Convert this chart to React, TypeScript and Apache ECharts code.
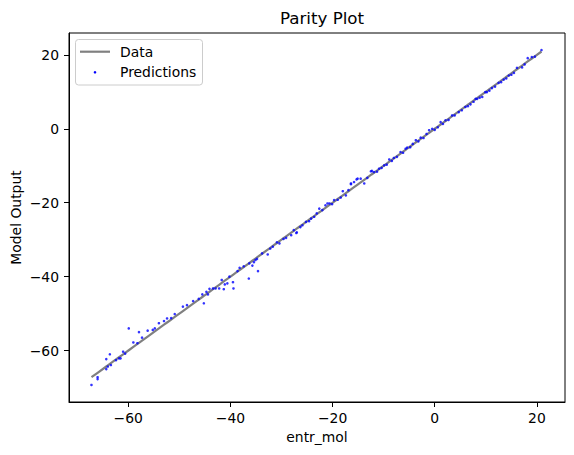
import React, { useEffect, useRef } from "react";
import * as echarts from "echarts";

const actual: number[] = [
  -67.2, -66.0, -66.0, -64.3, -64.3, -63.6, -64.0, -63.4, -62.4, -61.8,
  -61.5, -61.0, -60.6, -59.9, -59.0, -58.2, -57.9, -57.3, -56.2, -55.2,
  -54.8, -54.0, -53.0, -52.4, -51.6, -50.9, -49.3, -48.5, -47.3, -46.2,
  -45.5, -45.2, -44.7, -44.4, -44.1, -43.4, -42.9, -42.2, -41.7, -41.3,
  -41.1, -40.6, -40.2, -39.5, -39.4, -38.6, -38.2, -37.4, -36.4, -36.3,
  -35.7, -35.4, -35.1, -34.8, -34.6, -33.8, -32.7, -32.2, -31.7, -30.9,
  -30.4, -29.6, -29.1, -28.1, -27.6, -27.1, -27.0, -26.3, -25.9, -25.2,
  -24.6, -24.2, -23.6, -23.1, -22.6, -22.0, -21.4, -21.0, -20.6, -20.1,
  -19.7, -19.0, -18.4, -18.0, -17.4, -16.9, -16.4, -16.4, -15.8, -15.3,
  -15.1, -14.5, -13.8, -13.2, -12.5, -12.3, -11.9, -11.3, -10.9, -10.4,
  -9.9, -9.4, -8.9, -8.4, -8.0, -7.4, -6.7, -6.2, -5.7, -5.4,
  -4.8, -4.3, -3.7, -3.2, -2.75, -2.2, -1.6, -1.1, -0.5, 0.0,
  0.6, 1.15, 1.6, 2.1, 2.7, 3.4, 3.9, 4.7, 5.3, 6.0,
  6.5, 7.0, 7.6, 8.0, 8.3, 8.8, 9.3, 9.9, 10.2, 10.7,
  11.2, 11.8, 12.5, 13.0, 13.5, 14.0, 14.5, 15.0, 15.5, 16.1,
  17.1, 17.6, 18.2, 19.0, 19.6, 20.9,
];
const predicted: number[] = [
  -69.3, -67.2, -67.7, -65.0, -62.3, -61.0, -64.3, -63.9, -62.6, -62.1,
  -62.1, -60.3, -60.8, -54.0, -57.8, -58.0, -55.0, -56.5, -54.6, -54.4,
  -54.0, -52.6, -52.0, -51.3, -51.2, -50.1, -48.1, -47.7, -46.6, -46.0,
  -44.8, -47.2, -44.1, -44.8, -43.3, -43.2, -43.2, -43.2, -40.9, -43.4,
  -42.1, -41.8, -40.0, -41.5, -43.2, -38.5, -37.6, -37.2, -40.5, -36.4,
  -37.0, -36.1, -35.5, -35.2, -38.5, -33.7, -34.0, -32.4, -31.9, -30.7,
  -31.0, -29.8, -29.5, -28.8, -27.4, -28.2, -28.0, -26.6, -26.1, -25.2,
  -25.0, -24.3, -23.8, -22.9, -21.6, -22.0, -20.7, -20.2, -20.2, -20.4,
  -19.3, -19.2, -18.6, -16.9, -18.0, -16.6, -15.0, -14.8, -14.4, -13.7,
  -13.5, -13.5, -14.8, -13.3, -11.5, -11.4, -11.7, -11.6, -10.8, -10.6,
  -9.9, -9.7, -8.3, -8.7, -7.9, -7.6, -6.3, -6.5, -5.4, -5.1,
  -5.0, -4.1, -3.1, -3.4, -2.4, -2.5, -1.4, -0.4, 0.0, -0.3,
  0.4, 1.8, 1.3, 2.3, 2.4, 3.6, 3.6, 4.5, 5.0, 5.9,
  6.1, 6.6, 7.3, 8.1, 8.1, 8.4, 8.6, 9.9, 9.9, 10.3,
  11.0, 11.4, 12.4, 12.6, 13.3, 13.6, 14.4, 14.6, 15.1, 16.5,
  16.6, 17.4, 19.1, 19.4, 19.5, 21.3,
];
const xTicks: number[] = [-60, -40, -20, 0, 20];
const yTicks: number[] = [-60, -40, -20, 0, 20];

const FONT = "DejaVu Sans";
const fmt = (v: number) => (v < 0 ? "\u2212" + Math.abs(v) : String(v));

export default function App() {
  const ref = useRef<HTMLDivElement>(null);
  useEffect(() => {
    if (!ref.current) return;
    const chart = echarts.init(ref.current, undefined, { renderer: "svg" });
    const sortedActual = [...actual].sort((a, b) => a - b);
    const lineData = sortedActual.map((v) => [v, v]);
    const scatterData = actual.map((v, i) => [v, predicted[i]]);
    const axisCommon = {
      type: "value" as const,
      splitLine: { show: false },
      axisLine: { show: true, onZero: false, lineStyle: { color: "#000", width: 1 } },
      nameLocation: "middle" as const,
      nameTextStyle: { fontFamily: FONT, fontSize: 13.9, color: "#000" },
    };
    chart.setOption({
      animation: false,
      backgroundColor: "#fff",
      title: {
        text: "Parity Plot",
        left: 317,
        top: 4,
        textAlign: "center",
        textStyle: { fontFamily: FONT, fontSize: 16.7, fontWeight: "normal", color: "#000" },
      },
      grid: {
        left: 69,
        right: 9,
        top: 33,
        bottom: 53,
        show: true,
        borderColor: "#000",
        borderWidth: 1,
        backgroundColor: "#fff",
        outerBoundsMode: "none",
      },
      xAxis: {
        ...axisCommon,
        min: -71.6,
        max: 25.5,
        name: "entr_mol",
        nameGap: 28,
        axisTick: { show: true, customValues: xTicks, length: 5, lineStyle: { color: "#000" } },
        axisLabel: {
          customValues: xTicks,
          formatter: fmt,
          fontFamily: FONT,
          fontSize: 13.9,
          color: "#000",
          margin: 9,
        },
      },
      yAxis: {
        ...axisCommon,
        min: -73.9,
        max: 25.9,
        name: "Model Output",
        nameGap: 46,
        nameMoveOverlap: false,
        axisTick: { show: true, customValues: yTicks, length: 5, lineStyle: { color: "#000" } },
        axisLabel: {
          customValues: yTicks,
          formatter: fmt,
          fontFamily: FONT,
          fontSize: 13.9,
          color: "#000",
          margin: 10,
        },
      },
      series: [
        {
          name: "Data",
          type: "line",
          data: lineData,
          showSymbol: false,
          symbol: "none",
          lineStyle: { color: "#808080", width: 2.2 },
          z: 2,
        },
        {
          name: "Predictions",
          type: "scatter",
          data: scatterData,
          symbolSize: 2.6,
          itemStyle: { color: "#0000ff" },
          z: 3,
        },
      ],
      graphic: [
        {
          type: "group",
          z: 100,
          children: [
            {
              type: "rect",
              shape: { x: 75.5, y: 39.5, width: 127, height: 45.5, r: 3 },
              style: { fill: "rgba(255,255,255,0.8)", stroke: "#cccccc", lineWidth: 1 },
            },
            {
              type: "line",
              shape: { x1: 80, y1: 51.7, x2: 110, y2: 51.7 },
              style: { stroke: "#808080", lineWidth: 2.2 },
            },
            {
              type: "text",
              x: 120,
              y: 51.7,
              style: {
                text: "Data",
                fontFamily: FONT,
                fontSize: 13.9,
                fill: "#000",
                verticalAlign: "middle",
                align: "left",
              },
            },
            {
              type: "circle",
              shape: { cx: 95, cy: 72.3, r: 1.3 },
              style: { fill: "#0000ff" },
            },
            {
              type: "text",
              x: 120,
              y: 72.3,
              style: {
                text: "Predictions",
                fontFamily: FONT,
                fontSize: 13.9,
                fill: "#000",
                verticalAlign: "middle",
                align: "left",
              },
            },
          ],
        },
      ],
    });
    return () => chart.dispose();
  }, []);
  return <div ref={ref} style={{ width: 574, height: 455, position: "absolute", left: 0, top: 0 }} />;
}
